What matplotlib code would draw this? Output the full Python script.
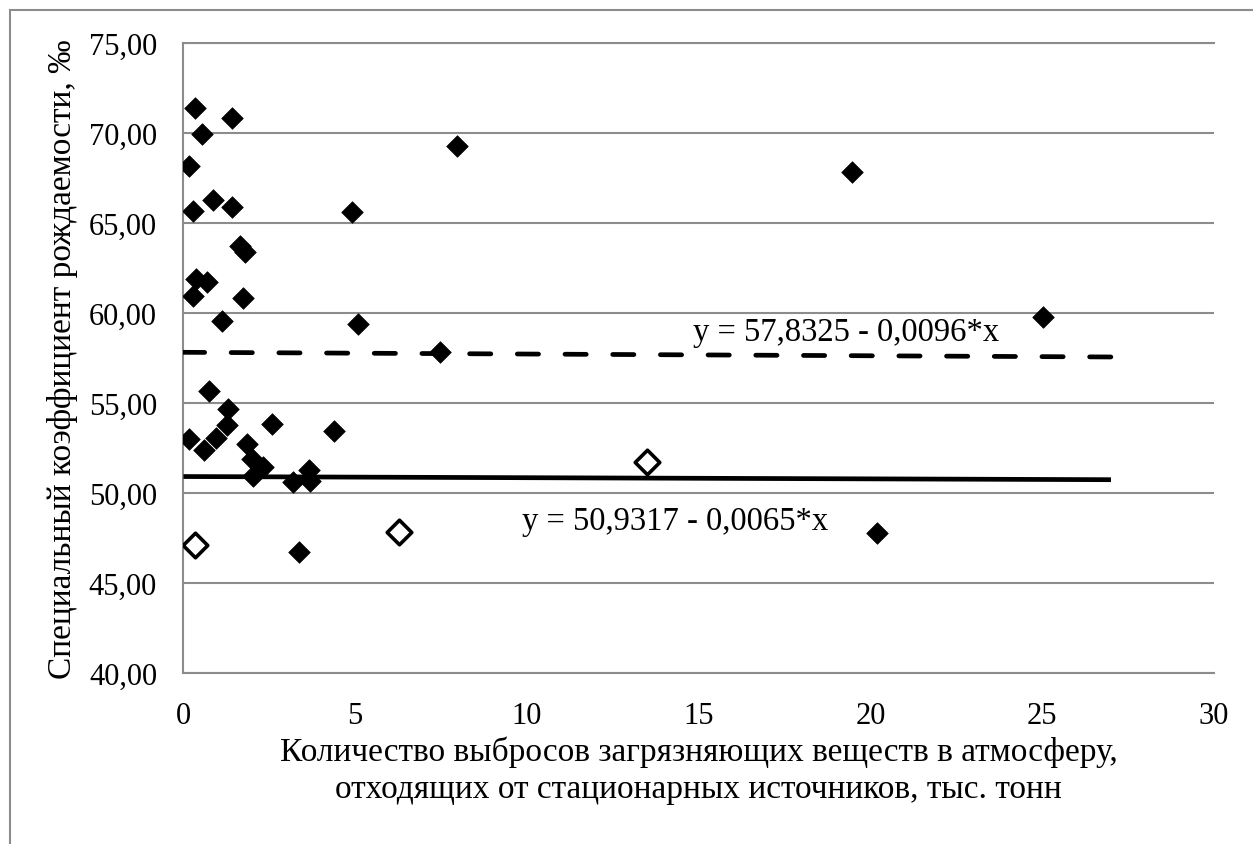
import matplotlib
matplotlib.use("Agg")
import matplotlib.pyplot as plt
import numpy as np
from matplotlib.patches import Rectangle
from matplotlib.ticker import FuncFormatter

plt.rcParams['font.family'] = ['Liberation Serif', 'DejaVu Serif']

# данные
x_filled = [0.33, 1.40, 0.53, 0.17, 0.85, 1.42, 0.29, 4.90, 1.64, 1.79,
            0.38, 0.68, 0.29, 1.72, 1.11, 5.09, 0.75, 1.30, 1.28, 0.17,
            0.95, 0.61, 2.59, 4.39, 1.84, 1.99, 2.32, 2.03, 3.20, 3.66,
            3.68, 3.37, 20.2, 19.46, 25.02, 7.48, 7.95]
y_filled = [71.40, 70.85, 69.96, 68.20, 66.30, 65.92, 65.70, 65.60, 63.76, 63.42,
            61.90, 61.72, 60.98, 60.85, 59.56, 59.40, 55.70, 54.68, 53.79, 53.02,
            53.06, 52.40, 53.85, 53.48, 52.74, 51.90, 51.44, 50.98, 50.61, 51.30,
            50.70, 46.76, 47.80, 67.87, 59.78, 57.85, 69.30]

x_open = [0.33, 6.28, 13.48]
y_open = [47.13, 47.87, 51.72]

# линии регрессии
trend_x = [0, 27]
a1, b1 = 57.8325, -0.0096
a2, b2 = 50.9317, -0.0065

xticks = [0, 5, 10, 15, 20, 25, 30]
yticks = [40, 45, 50, 55, 60, 65, 70, 75]

fig = plt.figure(figsize=(12.53, 8.45), dpi=100)
ax = fig.add_axes([0.1464, 0.202, 0.8225, 0.7456])

grey = '#8c8c8c'
# рамка области диаграммы
fig.patches.append(Rectangle((10 / 1253, -0.01), 1.1, 1 - 11 / 845 + 0.01,
                             transform=fig.transFigure, fill=False,
                             edgecolor=grey, linewidth=1.5))

ax.scatter(x_filled, y_filled, marker='D', s=11 ** 2, color='black',
           linewidths=0.5, zorder=3)
ax.scatter(x_open, y_open, marker='D', s=12.5 ** 2, facecolor='white',
           edgecolor='black', linewidths=2.6, zorder=3)

tx = np.array(trend_x, dtype=float)
ax.plot(tx, a1 + b1 * tx, color='black', lw=3.4, linestyle=(0, (4.5, 5.6)),
        dash_capstyle='round', zorder=4)
ax.plot(tx, a2 + b2 * tx, color='black', lw=3.4, solid_capstyle='butt', zorder=4)

ax.text(14.83, 58.96, 'y = 57,8325 - 0,0096*x', fontsize=23.5, va='center', ha='left')
ax.text(9.85, 48.48, 'y = 50,9317 - 0,0065*x', fontsize=23.5, va='center', ha='left')

ax.set_xlim(0, 30)
ax.set_ylim(40, 75)
ax.set_xticks(xticks)
ax.set_yticks(yticks)
ax.yaxis.set_major_formatter(FuncFormatter(lambda v, p: f'{v:.2f}'.replace('.', ',')))
ax.tick_params(axis='both', length=0, labelsize=22)
ax.tick_params(axis='y', pad=19)
ax.tick_params(axis='x', pad=20)

ax.grid(axis='y', color=grey, linewidth=1.5)
ax.set_axisbelow(True)
ax.spines['right'].set_visible(False)
for s in ['left', 'bottom', 'top']:
    ax.spines[s].set_color(grey)
    ax.spines[s].set_linewidth(1.5)

ax.set_xlabel('Количество выбросов загрязняющих веществ в атмосферу,\n'
              'отходящих от стационарных источников, тыс. тонн',
              fontsize=24, labelpad=4, linespacing=1.25)
ax.set_ylabel('Специальный коэффициент рождаемости, ‰', fontsize=24, labelpad=8)

fig.savefig('out.png', dpi=100)
